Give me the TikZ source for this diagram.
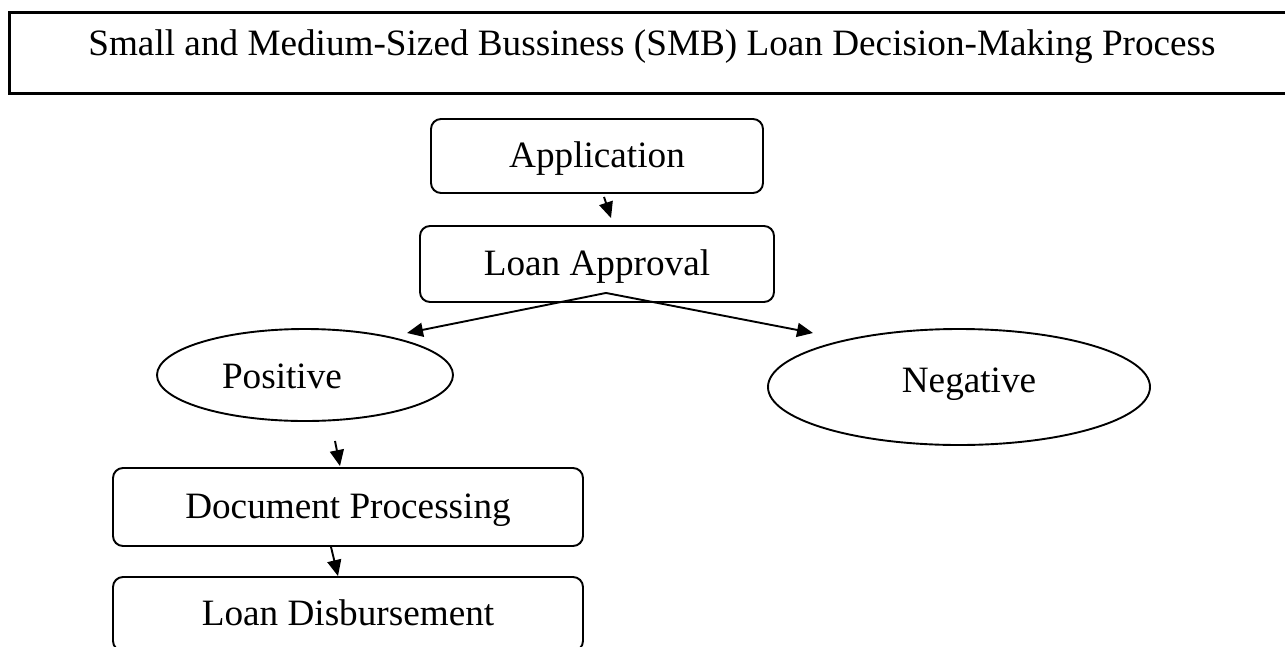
\documentclass[tikz,border=0pt]{standalone}
\usepackage{fontspec}
\setmainfont{Liberation Serif}
\usetikzlibrary{arrows.meta,shapes.geometric}
\begin{document}
\begin{tikzpicture}[x=1pt,y=-1pt,
  bigfont/.style={font=\fontsize{37.2}{44}\selectfont},
  stepbox/.style={draw,line width=1.9pt,rounded corners=10pt,inner sep=0pt,text height=26pt,text depth=4pt,bigfont},
  oval/.style={draw,line width=1.9pt,ellipse,inner sep=0pt},
  lbl/.style={bigfont,anchor=base,inner sep=0pt},
  arr/.style={line width=1.9pt,-{Triangle[length=16pt,width=14pt]}}]
\useasboundingbox (0,0) rectangle (1285,646);
\fill[white] (0,0) rectangle (1285,646);
\clip (0,0) rectangle (1285,646);
% title
\node[draw,line width=2.8pt,minimum width=1300pt,minimum height=81pt,anchor=north west,inner sep=0pt] (title) at (8,11) {};
\node[lbl] (titletext) at (652,55) {Small and Medium-Sized Bussiness (SMB) Loan Decision-Making Process};
% boxes
\node[stepbox,minimum width=332pt,minimum height=74pt] (app) at (597,156) {Application};
\node[stepbox,minimum width=354pt,minimum height=76pt] (appr) at (597,264) {Loan Approval};
\node[oval,minimum width=296pt,minimum height=92pt] (pos) at (305,375) {};
\node[lbl] (postext) at (282,388) {Positive};
\node[oval,minimum width=382pt,minimum height=116pt] (neg) at (959,387) {};
\node[lbl] (negtext) at (969,392) {Negative};
\node[stepbox,minimum width=470pt,minimum height=78pt] (doc) at (348,507) {Document Processing};
\node[stepbox,minimum width=470pt,minimum height=74pt] (dis) at (348,614) {Loan Disbursement};
% connectors
\coordinate (fork) at ([xshift=9pt,yshift=10pt]appr.south);
\draw[arr] ([xshift=7pt,yshift=-3pt]app.south) -- ([xshift=14pt,yshift=7pt]appr.north);
\draw[arr] (fork) -- ([xshift=102pt,yshift=42pt]pos.center);
\draw[arr] (fork) -- ([xshift=-146pt,yshift=54pt]neg.center);
\draw[arr] ([xshift=30pt,yshift=-19pt]pos.south) -- ([xshift=-8pt,yshift=1pt]doc.north);
\draw[arr] ([xshift=-17pt]doc.south) -- ([xshift=-10pt]dis.north);
\end{tikzpicture}
\end{document}
